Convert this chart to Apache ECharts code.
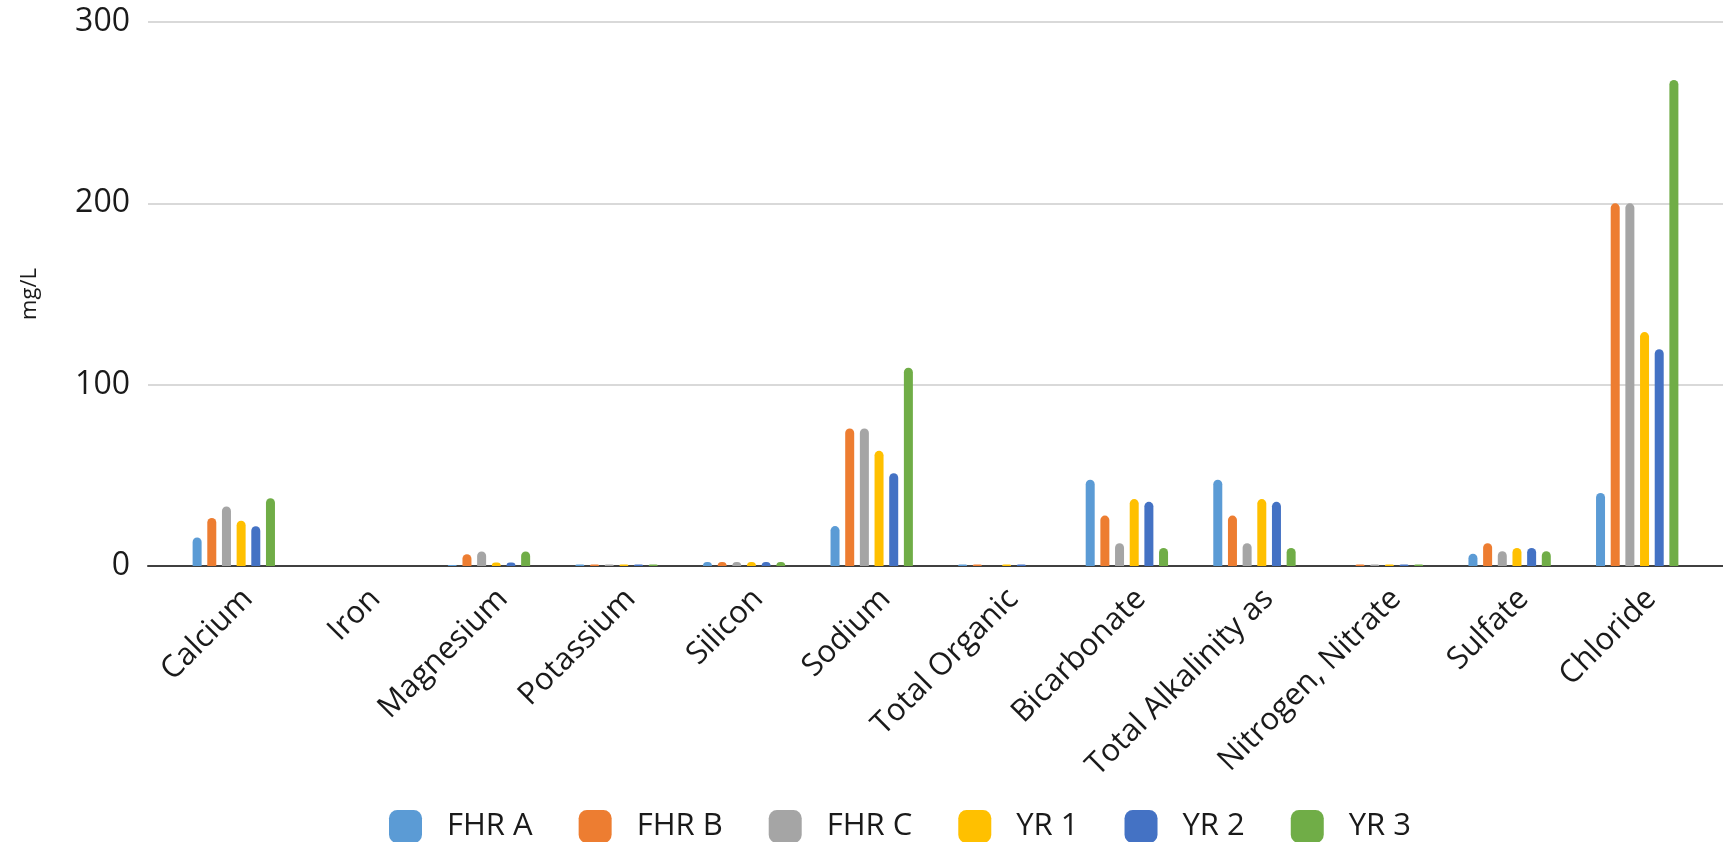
<!DOCTYPE html>
<html>
<head>
<meta charset="utf-8">
<title>Water chemistry by sample</title>
<script src="https://cdn.jsdelivr.net/npm/echarts@6/dist/echarts.min.js"></script>
<style>
  html, body { margin: 0; padding: 0; background: #ffffff; }
  #chart { width: 1723px; height: 842px; }
</style>
</head>
<body>
<div id="chart"></div>
<script>
// Analytes along the category axis
const categories = [
  'Calcium', 'Iron', 'Magnesium', 'Potassium', 'Silicon', 'Sodium',
  'Total Organic', 'Bicarbonate', 'Total Alkalinity as', 'Nitrogen, Nitrate',
  'Sulfate', 'Chloride'
];

// Concentrations in mg/L for each sample
const fhrA = [15.7, 0, 0.5, 0.8, 2.2, 22.0, 0.8, 47.6, 47.6, 0, 6.8, 40.3];
const fhrB = [26.5, 0, 6.5, 0.8, 2.2, 75.8, 0.8, 27.8, 27.8, 0.8, 12.6, 200];
const fhrC = [32.8, 0, 8.0, 0.8, 2.2, 75.8, 0, 12.6, 12.6, 0.8, 8.2, 200];
const yr1  = [25.0, 0, 1.9, 0.8, 2.2, 63.5, 0.8, 36.9, 36.9, 0.8, 9.9, 129];
const yr2  = [21.9, 0, 1.9, 0.8, 2.2, 51.2, 0.8, 35.4, 35.4, 0.8, 9.9, 119.5];
const yr3  = [37.4, 0, 8.0, 0.8, 2.2, 109.3, 0, 9.9, 9.9, 0.8, 8.2, 268];

const seriesNames = ['FHR A', 'FHR B', 'FHR C', 'YR 1', 'YR 2', 'YR 3'];
const seriesData = [fhrA, fhrB, fhrC, yr1, yr2, yr3];
const seriesColors = ['#5B9BD5', '#ED7D31', '#A5A5A5', '#FFC000', '#4472C4', '#70AD47'];

// Value axis ticks
const yMin = 0, yMax = 300, yStep = 100;

const textColor = '#1a1a1a';
const fontFamily = '"Open Sans", "Noto Sans", sans-serif';

// Plot frame shared by every grid
const plotTop = 22, plotBottom = 276;
const barsLeft = 170, barsRight = 22;
const labelShift = 3; // slanted category labels sit a little right of their bar group

const chart = echarts.init(document.getElementById('chart'), null, { renderer: 'canvas' });

const option = {
  backgroundColor: '#ffffff',
  animation: false,
  textStyle: { fontFamily: fontFamily },
  grid: [
    // gridlines and baseline
    { left: 148, right: 0, top: plotTop, bottom: plotBottom },
    // bars
    { left: barsLeft, right: barsRight, top: plotTop, bottom: plotBottom },
    // category labels
    { left: barsLeft + labelShift, right: barsRight - labelShift, top: plotTop, bottom: plotBottom }
  ],
  xAxis: [
    {
      gridIndex: 0, type: 'category', data: [''],
      axisLine: { show: true, lineStyle: { color: '#404040', width: 2 } },
      axisTick: { show: false }, axisLabel: { show: false }, splitLine: { show: false }
    },
    {
      gridIndex: 1, type: 'category', data: categories,
      axisLine: { show: false }, axisTick: { show: false }, axisLabel: { show: false }
    },
    {
      gridIndex: 2, type: 'category', data: categories,
      axisLine: { show: false }, axisTick: { show: false },
      axisLabel: {
        interval: 0, rotate: 45, margin: 17,
        verticalAlign: 'top',
        color: textColor, fontSize: 31, fontFamily: fontFamily
      }
    }
  ],
  yAxis: [
    {
      gridIndex: 0, type: 'value', min: yMin, max: yMax, interval: yStep,
      name: 'mg/L', nameLocation: 'middle', nameGap: 107,
      nameTextStyle: { color: textColor, fontSize: 22, fontFamily: fontFamily },
      axisLine: { show: false }, axisTick: { show: false },
      axisLabel: { color: textColor, fontSize: 32, margin: 18, fontFamily: fontFamily },
      splitLine: { show: true, lineStyle: { color: '#d9d9d9', width: 2 } }
    },
    {
      gridIndex: 1, type: 'value', min: yMin, max: yMax, interval: yStep,
      show: false, splitLine: { show: false }
    },
    {
      gridIndex: 2, type: 'value', min: yMin, max: yMax, interval: yStep,
      show: false, splitLine: { show: false }
    }
  ],
  legend: {
    left: 384, top: 805,
    itemWidth: 33, itemHeight: 33, itemGap: 46,
    icon: 'roundRect',
    textStyle: { color: textColor, fontSize: 31, fontFamily: fontFamily, padding: [0, 0, 0, 20] },
    data: seriesNames
  },
  series: seriesNames.map((name, i) => ({
    name: name,
    type: 'bar',
    xAxisIndex: 1,
    yAxisIndex: 1,
    data: seriesData[i],
    barWidth: 9,
    barGap: '63%',
    itemStyle: { color: seriesColors[i], borderRadius: [4.5, 4.5, 0, 0] },
    z: 3
  }))
};

chart.setOption(option);
</script>
</body>
</html>
